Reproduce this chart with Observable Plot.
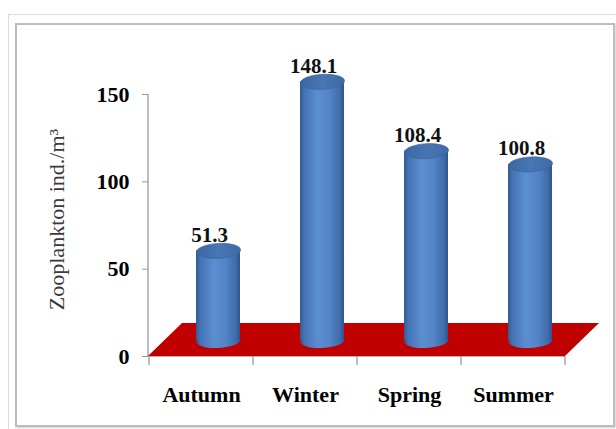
<!DOCTYPE html>
<html>
<head>
<meta charset="utf-8">
<script src="https://cdn.jsdelivr.net/npm/d3@7"></script>
<script src="https://cdn.jsdelivr.net/npm/@observablehq/plot@0.6"></script>
<style>
  html, body { margin: 0; padding: 0; background: #fff; }
  #wrap { position: relative; width: 616px; height: 429px; overflow: hidden; }
  #outer { position: absolute; left: 8px; top: 14px; width: 700px; height: 500px;
           border-left: 1px solid #dcdcdc; border-top: 1px solid #dcdcdc; }
  #inner { position: absolute; left: 15px; top: 23px; width: 596px; height: 400px;
           border: 2px solid #bdbdbd; box-shadow: 1px 1px 2px rgba(0,0,0,0.18); background: #fff; }
  #chart { position: absolute; left: 0; top: 0; }
</style>
</head>
<body>
<div id="wrap">
  <div id="outer"></div>
  <div id="inner"></div>
  <div id="chart"></div>
</div>
<script>
// ---- data ----
const seasons = ["Autumn", "Winter", "Spring", "Summer"];
const values = [51.3, 148.1, 108.4, 100.8];
const yTicks = [0, 50, 100, 150];
const yTitle = ["Zooplankton ind./m\u00B3"];

const data = seasons.map((s, i) => ({season: s, value: values[i]}));

// ---- styling constants ----
const SERIF = "'Liberation Serif', 'Times New Roman', Times, serif";
const DEPTH_X = 34, DEPTH_Y = -33;   // floor depth (px)
const CYL_DX = 17, CYL_DY = -16;     // cylinders sit mid-depth

// custom ellipse symbol for the cylinder caps
const ellipseSymbol = {
  draw(ctx) {
    const rx = 22.1, ry = 7.5, k = 0.5523, a = -3 * Math.PI / 180;
    const c = Math.cos(a), s = Math.sin(a);
    const p = (x, y) => [x * c - y * s, x * s + y * c];
    const m = p(rx, 0);
    ctx.moveTo(m[0], m[1]);
    const segs = [
      [[rx, k * ry], [k * rx, ry], [0, ry]],
      [[-k * rx, ry], [-rx, k * ry], [-rx, 0]],
      [[-rx, -k * ry], [-k * rx, -ry], [0, -ry]],
      [[k * rx, -ry], [rx, -k * ry], [rx, 0]]
    ];
    for (const [c1, c2, e] of segs) {
      const a1 = p(...c1), a2 = p(...c2), a3 = p(...e);
      ctx.bezierCurveTo(a1[0], a1[1], a2[0], a2[1], a3[0], a3[1]);
    }
    ctx.closePath();
  }
};

// function mark: axis lines, boundary ticks and the red floor, all from the plot's scales
function floorMark(...args) {
  const scales = args.find(a => a && typeof a.x === "function" && typeof a.y === "function");
  const dims = args.find(a => a && typeof a.width === "number" && "marginLeft" in a);
  const x0 = dims.marginLeft, x1 = dims.width - dims.marginRight;
  const y0 = scales.y(0);
  const yTop = scales.y(yTicks[yTicks.length - 1]);
  const g = d3.create("svg:g");
  g.append("line").attr("x1", x0).attr("x2", x0).attr("y1", yTop).attr("y2", y0)
    .attr("stroke", "#9a9a9a").attr("stroke-width", 1.3);
  g.append("line").attr("x1", x0).attr("x2", x1).attr("y1", y0).attr("y2", y0)
    .attr("stroke", "#9a9a9a").attr("stroke-width", 1.3);
  const bounds = seasons.map(s => scales.x(s)).concat([x1]);
  for (const bx of bounds) {
    g.append("line").attr("x1", bx).attr("x2", bx).attr("y1", y0).attr("y2", y0 + 9)
      .attr("stroke", "#9a9a9a").attr("stroke-width", 1.3);
  }
  g.append("path")
    .attr("d", `M${x0},${y0}L${x1},${y0}L${x1 + DEPTH_X},${y0 + DEPTH_Y}L${x0 + DEPTH_X},${y0 + DEPTH_Y}Z`)
    .attr("fill", "#c00000");
  return g.node();
}

const plot = Plot.plot({
  width: 616,
  height: 429,
  marginLeft: 148,
  marginRight: 51,
  marginTop: 94,
  marginBottom: 73,
  style: {background: "transparent", overflow: "visible", fontFamily: SERIF, color: "#000"},
  x: {domain: seasons, padding: 0},
  y: {domain: [0, 150]},
  marks: [
    floorMark,
    Plot.axisY({ticks: yTicks, tickSize: 6, tickPadding: 13, label: null,
      fontSize: 22, fontWeight: "bold", stroke: "#9a9a9a", fill: "#000", tickFormat: d => String(d)}),
    Plot.axisX({tickSize: 0, tickPadding: 30, label: null,
      fontSize: 22, fontWeight: "bold", fill: "#000"}),
    Plot.dot(data, {x: "season", y: () => 0, dx: CYL_DX, dy: CYL_DY, symbol: ellipseSymbol,
      fill: "url(#cylGrad)", stroke: "none"}),
    Plot.barY(data, {x: "season", y: "value", insetLeft: 30, insetRight: 30,
      dx: CYL_DX, dy: CYL_DY, fill: "url(#cylGrad)"}),
    Plot.dot(data, {x: "season", y: "value", dx: CYL_DX, dy: CYL_DY, symbol: ellipseSymbol,
      fill: "url(#capGrad)", stroke: "#3a6399", strokeWidth: 0.6}),
    Plot.text(data, {x: "season", y: "value", text: d => d.value.toFixed(1), dx: 8, dy: -32,
      fontSize: 21, fontWeight: "bold", fill: "#111"}),
    Plot.text(yTitle, {text: d => d, frameAnchor: "left", textAnchor: "middle", rotate: -90,
      dx: -92, dy: -6, fontSize: 22, fill: "#3a3a3a"})
  ]
});

const svg = d3.select(plot);
const defs = svg.insert("defs", ":first-child");
const body = defs.append("linearGradient").attr("id", "cylGrad")
  .attr("x1", "0%").attr("x2", "100%").attr("y1", "0%").attr("y2", "0%");
[["0%", "#325b94"], ["10%", "#4573b3"], ["40%", "#5b8fd2"], ["68%", "#5284c7"],
 ["90%", "#406ca8"], ["100%", "#2f558a"]].forEach(([o, c]) =>
  body.append("stop").attr("offset", o).attr("stop-color", c));
const cap = defs.append("linearGradient").attr("id", "capGrad")
  .attr("x1", "0%").attr("x2", "100%").attr("y1", "0%").attr("y2", "0%");
[["0%", "#3b67a1"], ["50%", "#4776b3"], ["100%", "#3e6ba6"]].forEach(([o, c]) =>
  cap.append("stop").attr("offset", o).attr("stop-color", c));

document.getElementById("chart").appendChild(plot);
</script>
</body>
</html>
